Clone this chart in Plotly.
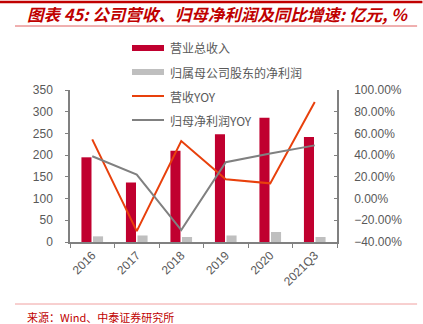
import plotly.graph_objects as go

categories = ["2016", "2017", "2018", "2019", "2020", "2021Q3"]
revenue = [195, 137, 210, 248, 286, 242]
net_profit = [13, 15, 11.5, 15, 23, 11.5]
revenue_yoy = [0.545, -0.30, 0.53, 0.178, 0.14, 0.89]
profit_yoy = [0.39, 0.22, -0.29, 0.335, 0.415, 0.49]
names = ["营业总收入", "归属母公司股东的净利润", "营收YOY", "归母净利润YOY"]
colors = ["#C0002F", "#BFBFBF", "#E8400C", "#808080"]

fig = go.Figure()
fig.add_bar(x=categories, y=revenue, name=names[0], marker_color=colors[0], marker_line_width=0)
fig.add_bar(x=categories, y=net_profit, name=names[1], marker_color=colors[1], marker_line_width=0)
fig.add_scatter(x=categories, y=revenue_yoy, name=names[2], mode="lines",
                line=dict(color=colors[2], width=2), yaxis="y2")
fig.add_scatter(x=categories, y=profit_yoy, name=names[3], mode="lines",
                line=dict(color=colors[3], width=2), yaxis="y2")

axis_color = "#808080"
tick_font = dict(family="Liberation Sans, Arial", size=12, color="#595959")

fig.update_layout(
    width=423, height=324,
    margin=dict(l=70, r=86, t=90, b=82),
    paper_bgcolor="white", plot_bgcolor="white",
    showlegend=False,
    barmode="group", bargap=0.48, bargroupgap=0.13,
    xaxis=dict(type="category", showgrid=False, showline=True, linecolor=axis_color, linewidth=1.5,
               ticks="outside", tickson="boundaries", ticklen=4, tickcolor=axis_color,
               tickangle=-45, tickfont=tick_font),
    yaxis=dict(range=[0, 350], dtick=50, showgrid=False, showline=True, linecolor=axis_color,
               linewidth=1.5, ticks="outside", ticklen=3, tickcolor=axis_color, tickfont=tick_font,
               zeroline=False, ticklabelstandoff=10),
    yaxis2=dict(range=[-0.4, 1.0], dtick=0.2, tickformat=".2%", overlaying="y", side="right",
                showgrid=False, showline=True, linecolor=axis_color, linewidth=1.5,
                ticks="inside", ticklen=3, tickcolor=axis_color, tickfont=tick_font, zeroline=False,
                ticklabelstandoff=13),
)

shapes = [
    dict(type="line", xref="paper", yref="paper", x0=-70/267, x1=1.32, y0=1 + 88/152, y1=1 + 88/152,
         line=dict(color="#C00000", width=2.5)),
    dict(type="line", xref="paper", yref="paper", x0=-55/267, x1=1.3, y0=1 + 64/152, y1=1 + 64/152,
         line=dict(color="#E06060", width=1)),
    dict(type="line", xref="paper", yref="paper", x0=-55/267, x1=1.3, y0=-62/152, y1=-62/152,
         line=dict(color="#F0A0A0", width=1)),
]
annotations = [
    dict(text="<b><i>图表 45: 公司营收、归母净利润及同比增速: 亿元, %</i></b>", xref="paper", yref="paper",
         x=-45/267, y=1 + 76/152, xanchor="left", yanchor="middle", showarrow=False,
         font=dict(family="Noto Sans CJK SC", size=16.5, color="#C00000")),
    dict(text="来源：Wind、中泰证券研究所", xref="paper", yref="paper",
         x=-45/267, y=-75/152, xanchor="left", yanchor="middle", showarrow=False,
         font=dict(family="Noto Sans CJK SC", size=11, color="#C00000")),
]
# custom legend
leg_y = [48, 72, 96, 120]
for i, (nm, c) in enumerate(zip(names, colors)):
    yp = 1 + (90 - leg_y[i]) / 152
    x0 = (132 - 70) / 267
    x1 = (164 - 70) / 267
    if i < 2:
        shapes.append(dict(type="rect", xref="paper", yref="paper", x0=x0, x1=x1,
                           y0=yp - 3 / 152, y1=yp + 3 / 152, fillcolor=c, line=dict(width=0)))
    else:
        shapes.append(dict(type="line", xref="paper", yref="paper", x0=x0, x1=x1,
                           y0=yp, y1=yp, line=dict(color=c, width=2)))
    annotations.append(dict(text=nm, xref="paper", yref="paper", x=(168 - 70) / 267, y=yp,
                            xanchor="left", yanchor="middle", showarrow=False,
                            font=dict(family="Noto Sans CJK SC", size=12, color="#595959")))
fig.update_layout(shapes=shapes, annotations=annotations)

fig.write_html("out.html")
